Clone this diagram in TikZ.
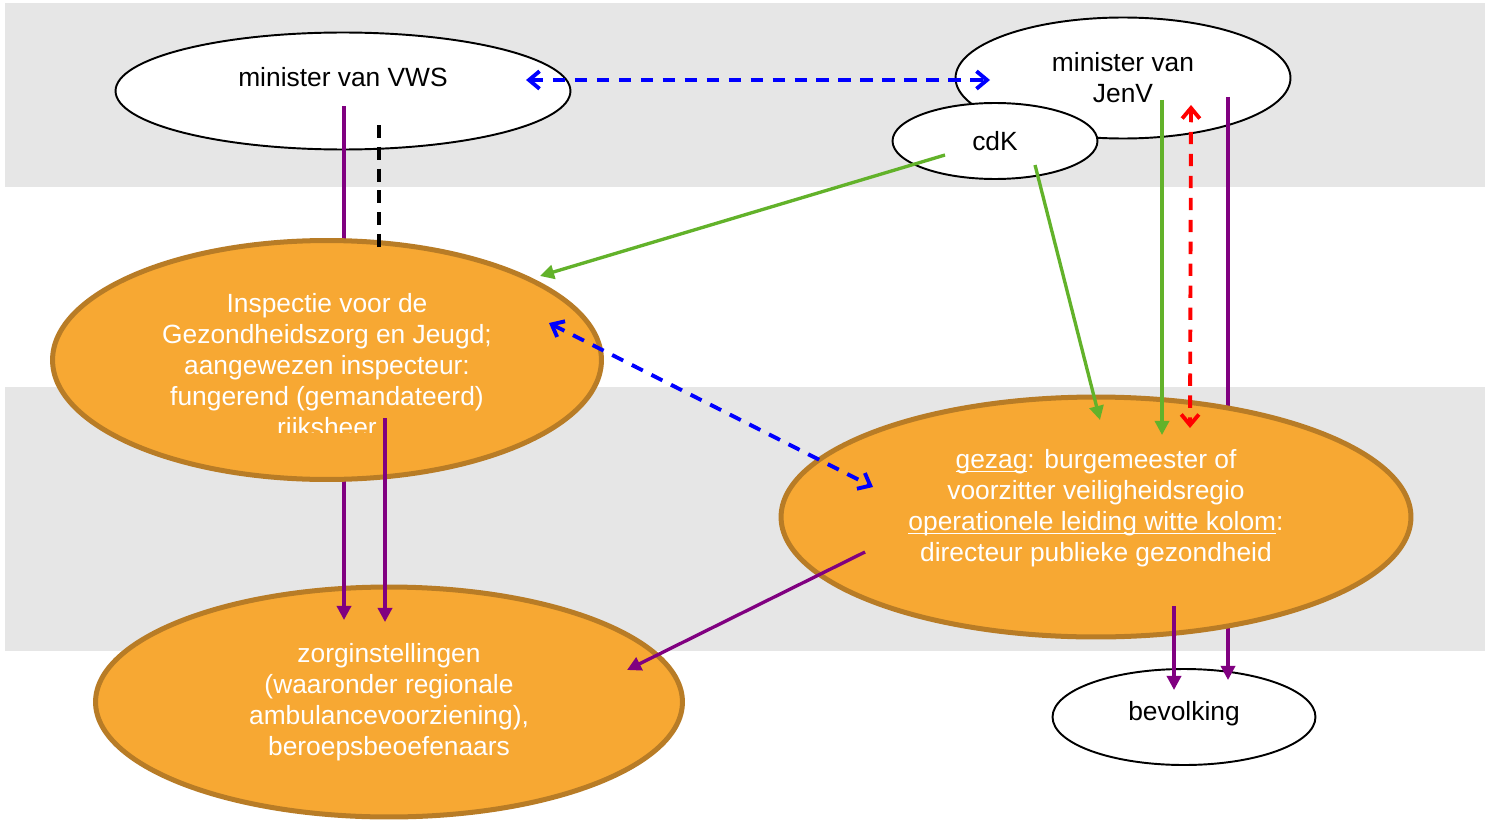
\documentclass[tikz,border=0pt]{standalone}
\usepackage{fontspec}
\setmainfont{Liberation Sans}
\usetikzlibrary{shapes.geometric, arrows.meta, calc}

\definecolor{bandgray}{RGB}{230,230,230}
\definecolor{orangefill}{RGB}{247,168,51}
\definecolor{orangeline}{RGB}{184,124,38}
\definecolor{arrowgreen}{RGB}{98,178,42}
\definecolor{arrowpurple}{RGB}{128,0,128}

\newcommand{\labelfont}{\fontsize{15pt}{17.6pt}\selectfont}
% underline close to the baseline
\newcommand{\lowline}[1]{\setbox0\hbox{#1}\rlap{\rule[-2.2pt]{\wd0}{0.8pt}}\box0}

\begin{document}
\begin{tikzpicture}[x=0.02cm, y=-0.02cm,
		whiteell/.style={ellipse, draw=black, line width=1.1pt, fill=white, inner sep=0pt, font=\labelfont, align=center},
		orangeell/.style={ellipse, draw=orangeline, line width=2.85pt, fill=orangefill, inner sep=0pt, font=\labelfont, text=white, align=center},
		whitetext/.style={inner sep=0pt, font=\labelfont, text=white, align=center},
		purplearrow/.style={-{Triangle[length=8pt, width=8pt]}, arrowpurple, line width=1.9pt},
		greenarrow/.style={-{Triangle[length=8pt, width=8pt]}, arrowgreen, line width=1.9pt},
		barbs/.style={{Straight Barb[length=6pt, width=10pt]}-{Straight Barb[length=6pt, width=10pt]}, line width=2.2pt, dash pattern=on 7pt off 5.5pt},
		blackdash/.style={black, line width=2.1pt, dash pattern=on 7.4pt off 5pt}]

		\useasboundingbox (0, 0) rectangle (1493, 821);
		\fill[white]	(0, 0) rectangle (1493, 821);

		% bands
		\fill[bandgray]	(5, 3) rectangle (1485, 187);
		\fill[bandgray]	(5, 387) rectangle (1485, 651);

		% ministers
		\node[whiteell, minimum width=9.1cm, minimum height=2.34cm, text height=11pt, text depth=16pt] (vws) at (343, 91) {minister van VWS};
		\node[whiteell, minimum width=6.7cm, minimum height=2.42cm] (jenv) at (1123, 78) {minister van\\JenV};
		\node[whiteell, minimum width=4.1cm, minimum height=1.52cm] (cdk) at (995, 141) {cdK};

		\node[orangeell, minimum width=11.74cm, minimum height=4.6cm] (zorg) at (389, 702) {zorginstellingen\\(waaronder regionale\\ambulancevoorziening),\\beroepsbeoefenaars};
		\node[whiteell, minimum width=5.26cm, minimum height=1.92cm, text height=11pt, text depth=7pt] (bev) at (1184, 717) {bevolking};

		% lines running behind the orange ellipses
		\draw[purplearrow]	($(vws)+(1, 15)$) to ($(zorg)+(-45, -82)$);
		\draw[purplearrow]	($(jenv)+(105, 19)$) to ($(bev)+(44, -37)$);

		% inspectie
		\node[orangeell, minimum width=10.98cm, minimum height=4.78cm] (igj) at (327, 360) {};
		\begin{scope}
			\clip (50, 238) rectangle (604, 432);
			\node[whitetext] (igjtext) at (327, 368) {Inspectie voor de\\Gezondheidszorg en Jeugd;\\aangewezen inspecteur:\\fungerend (gemandateerd)\\rijksheer};
		\end{scope}

		% gezag
		\node[orangeell, minimum width=12.6cm, minimum height=4.8cm] (gezag) at (1096, 517) {};
		\node[whitetext] (gezagtext) at (1096, 508) {\lowline{gezag}: burgemeester of\\voorzitter veiligheidsregio\\\lowline{operationele leiding witte kolom}:\\directeur publieke gezondheid};

		% connectors
		\draw[blackdash]	($(vws)+(36, 34)$) to ($(igj)+(52, -105)$);
		\draw[purplearrow]	($(igj)+(58, 58)$) to ($(zorg)+(-4, -80)$);
		\draw[purplearrow]	($(gezag)+(-231, 35)$) to ($(zorg)+(238, -32)$);
		\draw[purplearrow]	($(gezag)+(78, 89)$) to ($(bev)+(-10, -27)$);

		\draw[greenarrow]	($(cdk)+(-50, 14)$) to ($(igj)+(213, -84)$);
		\draw[greenarrow]	($(cdk)+(40, 24)$) to ($(gezag)+(4, -97)$);
		\draw[greenarrow]	($(jenv)+(39, 22)$) to ($(gezag)+(66, -82)$);

		\draw[barbs, blue]	($(vws)+(183, -11)$) to ($(jenv)+(-133, 2)$);
		\draw[barbs, blue]	($(igj)+(222, -37)$) to ($(gezag)+(-223, -30)$);
		\draw[barbs, red]	($(jenv)+(68, 27)$) to ($(gezag)+(94, -89)$);
	\end{tikzpicture}
\end{document}
